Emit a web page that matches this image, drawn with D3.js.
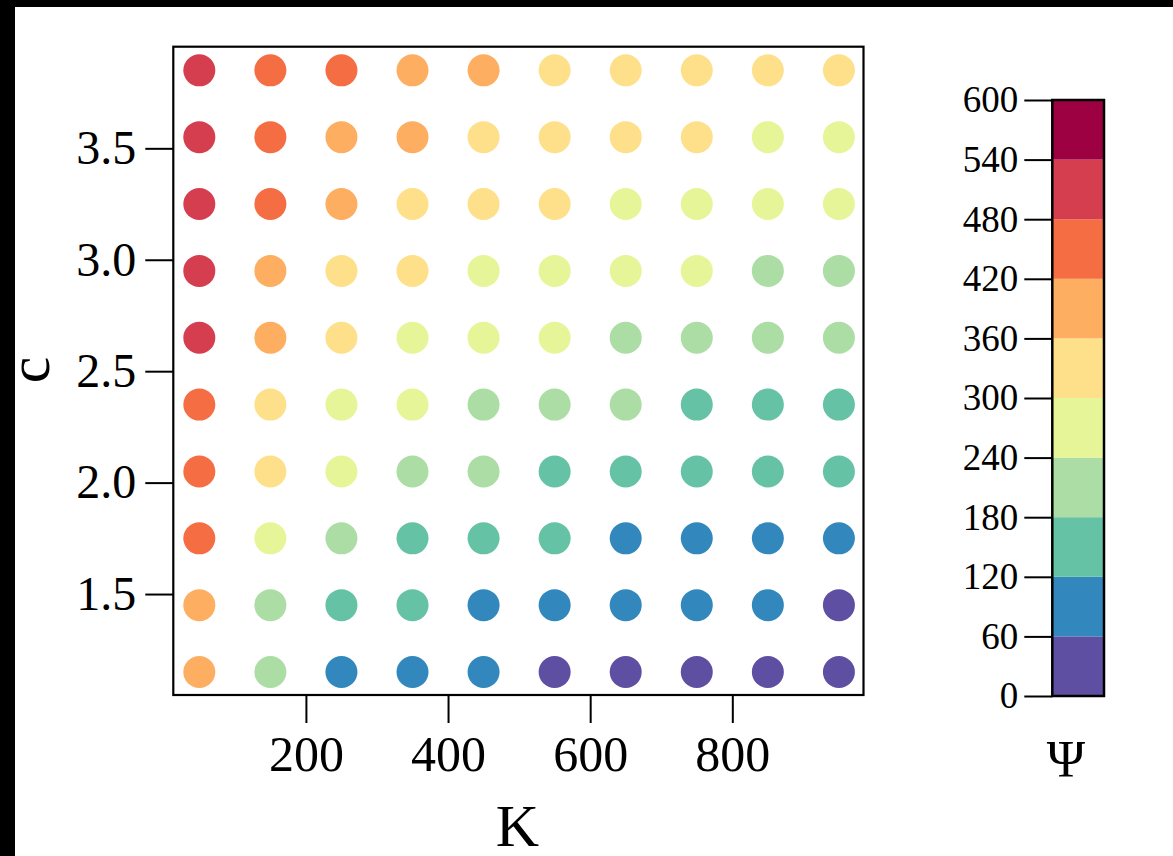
<!DOCTYPE html>
<html>
<head>
<meta charset="utf-8">
<script src="https://cdn.jsdelivr.net/npm/d3@7"></script>
<style>
  html, body { margin: 0; padding: 0; background: #000; }
  svg { display: block; }
  text { font-family: "Liberation Serif", "Times New Roman", serif; fill: #000; }
</style>
</head>
<body>
<svg id="chart" width="1173" height="856"></svg>
<script>
// Grid of K (columns) and c (rows), bottom row first
const kValues = [50, 150, 250, 350, 450, 550, 650, 750, 850, 950];
const cValues = [1.15, 1.45, 1.75, 2.05, 2.35, 2.65, 2.95, 3.25, 3.55, 3.85];

// Ψ for each c row (same order as cValues), one entry per K column
const psiRow115 = [390, 210, 90, 90, 90, 30, 30, 30, 30, 30];
const psiRow145 = [390, 210, 150, 150, 90, 90, 90, 90, 90, 30];
const psiRow175 = [450, 270, 210, 150, 150, 150, 90, 90, 90, 90];
const psiRow205 = [450, 330, 270, 210, 210, 150, 150, 150, 150, 150];
const psiRow235 = [450, 330, 270, 270, 210, 210, 210, 150, 150, 150];
const psiRow265 = [510, 390, 330, 270, 270, 270, 210, 210, 210, 210];
const psiRow295 = [510, 390, 330, 330, 270, 270, 270, 270, 210, 210];
const psiRow325 = [510, 450, 390, 330, 330, 330, 270, 270, 270, 270];
const psiRow355 = [510, 450, 390, 390, 330, 330, 330, 330, 270, 270];
const psiRow385 = [510, 450, 450, 390, 390, 330, 330, 330, 330, 330];
const psiRows = [psiRow115, psiRow145, psiRow175, psiRow205, psiRow235,
                 psiRow265, psiRow295, psiRow325, psiRow355, psiRow385];

const xTicks = [200, 400, 600, 800];
const yTicks = [1.5, 2.0, 2.5, 3.0, 3.5];
const psiTicks = [0, 60, 120, 180, 240, 300, 360, 420, 480, 540, 600];
const psiDomain = [0, 600];

const points = [];
cValues.forEach((c, i) => kValues.forEach((k, j) => points.push({ k, c, psi: psiRows[i][j] })));

const svg = d3.select("#chart");

// page background with the dark edge on top and left
svg.append("rect").attr("x", 0).attr("y", 0).attr("width", 1173).attr("height", 856).attr("fill", "#000");
svg.append("rect").attr("x", 15).attr("y", 7).attr("width", 1158).attr("height", 849).attr("fill", "#fff");

const plot = { left: 173.3, right: 863.5, top: 46.7, bottom: 695 };

const x = d3.scaleLinear().domain([13.4, 984.6]).range([plot.left, plot.right]);
const y = d3.scaleLinear().domain([1.047, 3.956]).range([plot.bottom, plot.top]);

const color = d3.scaleQuantize()
  .domain(psiDomain)
  .range(d3.schemeSpectral[10].slice().reverse());

// dots
svg.append("g").selectAll("circle")
  .data(points)
  .join("circle")
  .attr("cx", d => x(d.k))
  .attr("cy", d => y(d.c))
  .attr("r", 16)
  .attr("fill", d => color(d.psi));

// axes
const xAxis = svg.append("g")
  .attr("transform", `translate(0,${plot.bottom})`)
  .call(d3.axisBottom(x).tickValues(xTicks).tickSize(28).tickPadding(12).tickFormat(d3.format("d")));
xAxis.selectAll("text").attr("font-size", 50).style("font-family", "'Liberation Serif', serif");

const yAxis = svg.append("g")
  .attr("transform", `translate(${plot.left},0)`)
  .call(d3.axisLeft(y).tickValues(yTicks).tickSize(28).tickPadding(9).tickFormat(d3.format(".1f")));
yAxis.selectAll("text").attr("font-size", 48).style("font-family", "'Liberation Serif', serif");

[xAxis, yAxis].forEach(g => {
  g.select(".domain").remove();
  g.selectAll(".tick line").attr("stroke", "#000").attr("stroke-width", 2);
});

// plot frame
svg.append("rect")
  .attr("x", plot.left).attr("y", plot.top)
  .attr("width", plot.right - plot.left).attr("height", plot.bottom - plot.top)
  .attr("fill", "none").attr("stroke", "#000").attr("stroke-width", 2.2);

// axis titles
svg.append("text")
  .attr("x", (plot.left + plot.right) / 2 - 1).attr("y", 846)
  .attr("text-anchor", "middle").attr("font-size", 60)
  .text("K");

svg.append("text")
  .attr("transform", "translate(49,370) rotate(-90)")
  .attr("text-anchor", "middle").attr("font-size", 60)
  .text("c");

// colour bar
const cb = { left: 1052.3, right: 1104, top: 100, bottom: 696 };
const cbScale = d3.scaleLinear().domain(psiDomain).range([cb.bottom, cb.top]);
const bands = color.range().map(col => {
  const [lo, hi] = color.invertExtent(col);
  return { col, lo, hi };
});

svg.append("g").selectAll("rect")
  .data(bands)
  .join("rect")
  .attr("x", cb.left)
  .attr("y", d => cbScale(d.hi))
  .attr("width", cb.right - cb.left)
  .attr("height", d => cbScale(d.lo) - cbScale(d.hi))
  .attr("fill", d => d.col);

svg.append("rect")
  .attr("x", cb.left).attr("y", cb.top)
  .attr("width", cb.right - cb.left).attr("height", cb.bottom - cb.top)
  .attr("fill", "none").attr("stroke", "#000").attr("stroke-width", 2.5);

const cbAxis = svg.append("g")
  .attr("transform", `translate(${cb.left},0)`)
  .call(d3.axisLeft(cbScale).tickValues(psiTicks).tickSize(28).tickPadding(6).tickFormat(d3.format("d")));
cbAxis.select(".domain").remove();
cbAxis.selectAll(".tick line").attr("stroke", "#000").attr("stroke-width", 2);
cbAxis.selectAll("text").attr("font-size", 37).style("font-family", "'Liberation Serif', serif");

svg.append("text")
  .attr("x", 1066).attr("y", 777)
  .attr("text-anchor", "middle").attr("font-size", 52)
  .text("Ψ");
</script>
</body>
</html>
